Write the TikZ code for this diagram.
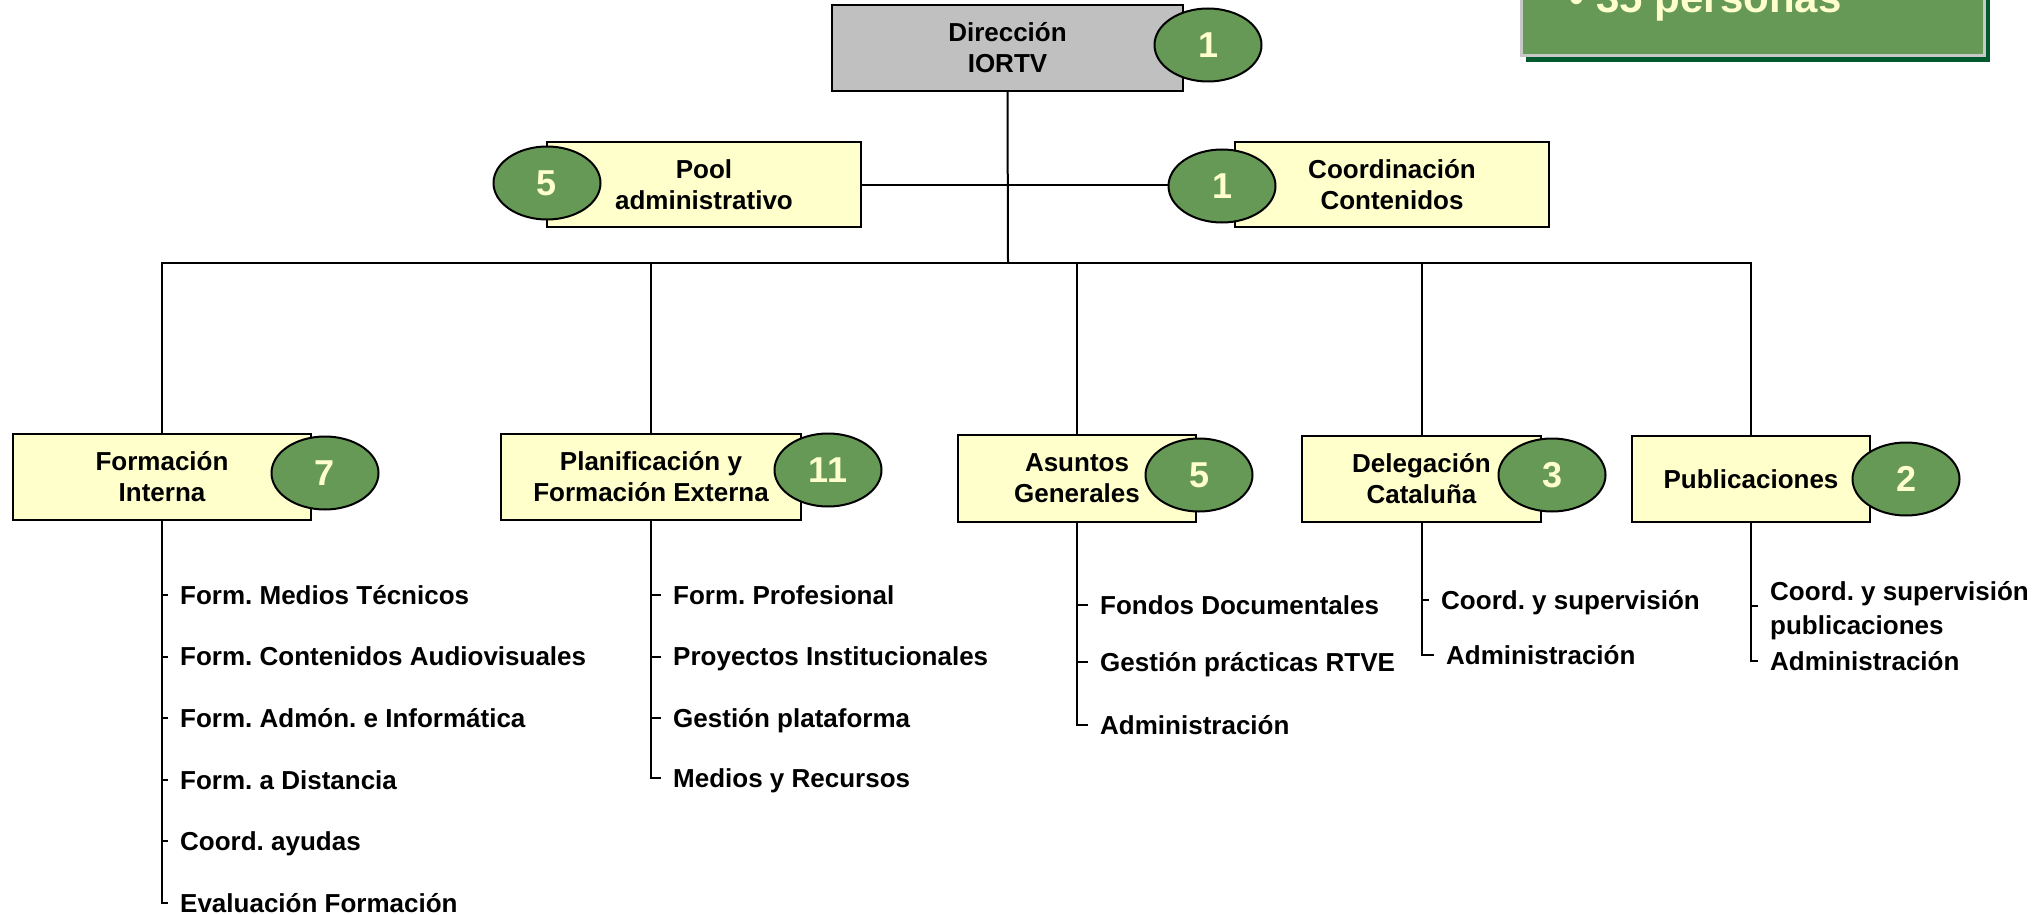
\documentclass[tikz,border=0pt]{standalone}
\usepackage{fontspec}
\setmainfont{Liberation Sans}
\frenchspacing
\usetikzlibrary{shapes.geometric,calc}
\definecolor{boxyellow}{HTML}{FFFFCC}
\definecolor{badgegreen}{HTML}{669955}
\definecolor{shadowgreen}{HTML}{005A2E}
\definecolor{dirgray}{HTML}{C0C0C0}
\definecolor{digitcol}{HTML}{FFFFCC}
\definecolor{framegray}{HTML}{C8C8C8}
\begin{document}
\begin{tikzpicture}[x=1pt,y=-1pt,
  unit/.style={draw=black,line width=2.2pt,fill=boxyellow,minimum height=86pt,inner sep=0pt,align=center,font=\fontsize{26}{31}\selectfont\bfseries},
  badge/.style={ellipse,draw=black,line width=2pt,fill=badgegreen,minimum width=107pt,minimum height=73pt,inner sep=0pt,text=digitcol,font=\fontsize{36}{36}\selectfont\bfseries},
  item/.style={anchor=west,inner sep=0pt,text height=18.6pt,text depth=0pt,font=\fontsize{26}{31}\selectfont\bfseries},
  link/.style={line width=2pt}]
\useasboundingbox (0,0) rectangle (2038,915);

% total box (top right)
\fill[shadowgreen] (1526,-10) rectangle (1990,62);
\draw[draw=framegray,line width=3pt,fill=badgegreen] (1521.5,-10) rectangle (1984.5,55.5);
\node[anchor=base west,inner sep=0pt,text=digitcol,font=\fontsize{42}{42}\selectfont\bfseries] (total) at (1569,13) {•\hspace{0.3em}35 personas};

% top level
\node[unit,fill=dirgray,minimum width=351pt] (dir) at (1007.5,48) {Dirección\\IORTV};
\node[badge] (bdir) at (1208,45) {1};

\node[unit,minimum width=314pt,minimum height=85pt] (pool) at (704,184.5) {Pool\\administrativo};
\node[unit,minimum width=314pt,minimum height=85pt] (coord) at (1392,184.5) {Coordinación\\Contenidos};
\node[badge] (bpool) at (547,183) {5};
\node[badge] (bcoord) at (1222,186) {1};

\coordinate (bus) at (1008,263);

% second level
\node[unit,minimum width=298pt] (fi) at (162,477) {Formación\\Interna};
\node[badge] (bfi) at (325,473) {7};
\node[unit,minimum width=300pt] (pfe) at (651,477) {Planificación y\\Formación Externa};
\node[badge] (bpfe) at (828,470) {11};
\node[unit,minimum width=238pt,minimum height=87pt] (ag) at (1077,478.5) {Asuntos\\Generales};
\node[badge] (bag) at (1199,475) {5};
\node[unit,minimum width=239pt] (dc) at (1421.5,479) {Delegación\\Cataluña};
\node[badge] (bdc) at (1552,475) {3};
\node[unit,minimum width=238pt] (pub) at (1751,479) {Publicaciones};
\node[badge] (bpub) at (1906,479) {2};

% connectors top
\draw[link] (dir.south) -- (bus);
\draw[link] (pool.east) -- (pool.east -| bcoord.west);
\foreach \b in {fi,pfe,ag,dc,pub} {\draw[link] (\b.north) |- (bus);}

% items: Formación Interna
\node[item] (fi1) at (180,595) {Form. Medios Técnicos};
\node[item] (fi2) at (180,656.6) {Form. Contenidos Audiovisuales};
\node[item] (fi3) at (180,718.2) {Form. Admón. e Informática};
\node[item] (fi4) at (180,779.8) {Form. a Distancia};
\node[item] (fi5) at (180,841.4) {Coord. ayudas};
\node[item] (fi6) at (180,903) {Evaluación Formación};
\draw[link] (fi.south) -- (fi.south |- fi6.west) -- ([xshift=-12pt]fi6.west);
\foreach \i in {fi1,fi2,fi3,fi4,fi5} {\draw[link] (fi.south |- \i.west) -- ([xshift=-12pt]\i.west);}

% items: Planificación
\node[item] (pf1) at (673,595) {Form. Profesional};
\node[item] (pf2) at (673,656.6) {Proyectos Institucionales};
\node[item] (pf3) at (673,718.2) {Gestión plataforma};
\node[item] (pf4) at (673,778) {Medios y Recursos};
\draw[link] (pfe.south) -- (pfe.south |- pf4.west) -- ([xshift=-12pt]pf4.west);
\foreach \i in {pf1,pf2,pf3} {\draw[link] (pfe.south |- \i.west) -- ([xshift=-12pt]\i.west);}

% items: Asuntos Generales
\node[item] (ag1) at (1100,605) {Fondos Documentales};
\node[item] (ag2) at (1100,661.7) {Gestión prácticas RTVE};
\node[item] (ag3) at (1100,725) {Administración};
\draw[link] (ag.south) -- (ag.south |- ag3.west) -- ([xshift=-12pt]ag3.west);
\foreach \i in {ag1,ag2} {\draw[link] (ag.south |- \i.west) -- ([xshift=-12pt]\i.west);}

% items: Delegación Cataluña
\node[item] (dc1) at (1441,600) {Coord. y supervisión};
\node[item] (dc2) at (1446,655) {Administración};
\draw[link] (dc.south) -- (dc.south |- dc2.west) -- ([xshift=-12pt]dc2.west);
\draw[link] (dc.south |- dc1.west) -- ([xshift=-12pt]dc1.west);

% items: Publicaciones
\node[item] (pu1) at (1770,590.7) {Coord. y supervisión};
\node[item] (pu1b) at (1770,625) {publicaciones};
\node[item] (pu2) at (1770,660.7) {Administración};
\coordinate (pum) at ($(pu1.west)!0.45!(pu1b.west)$);
\draw[link] (pub.south) -- (pub.south |- pu2.west) -- ([xshift=-12pt]pu2.west);
\draw[link] (pub.south |- pum) -- ([xshift=-12pt]pum);
\end{tikzpicture}
\end{document}
